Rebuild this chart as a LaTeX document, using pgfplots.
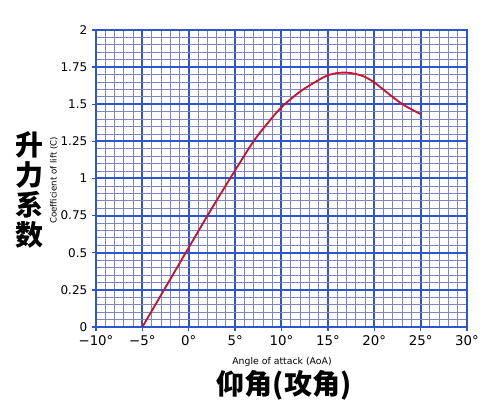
\documentclass[border=0pt]{standalone}
\usepackage{fontspec}
\setmainfont{DejaVu Sans}
\newfontfamily\cjk{Noto Sans CJK SC}[BoldFont={* Black}]
\usepackage{pgfplots}
\pgfplotsset{compat=1.18}

\definecolor{major}{RGB}{45,85,205}
\definecolor{minor}{RGB}{125,135,195}
\definecolor{curve}{RGB}{200,20,45}

\begin{document}
\begin{tikzpicture}
% 1 px of the reference = 0.75pt; axis box starts at (96,327) px
\useasboundingbox (-72pt,-65.25pt) rectangle (303pt,245.25pt);
\begin{axis}[
    at={(0,0)}, anchor=south west,
    scale only axis,
    width=278.25pt, height=222.75pt,
    xmin=-10, xmax=30,
    ymin=0, ymax=2,
    xtick={-10,-5,...,30},
    xticklabels={−10°,−5°,0°,5°,10°,15°,20°,25°,30°},
    ytick={0,0.25,0.5,0.75,1,1.25,1.5,1.75,2},
    minor x tick num=4,
    minor y tick num=4,
    grid=both,
    major grid style={major, line width=1.5pt},
    minor grid style={minor, line width=0.6pt},
    axis line style={major, line width=1.5pt},
    tick align=outside,
    xtick pos=bottom, ytick pos=left,
    major tick length=3pt,
    minor tick length=0pt,
    tick style={major, line width=1pt},
    xticklabel style={font=\fontsize{10}{12}\selectfont},
    yticklabel style={font=\fontsize{9}{11}\selectfont},
    /pgf/number format/assume math mode=true,
    clip=false,
]
\addplot[curve, line width=1.4pt, smooth] coordinates {
    (-5,0) (0,0.535) (2.5,0.8) (5,1.055) (7,1.252) (8.5,1.372) (10,1.48)
    (12,1.585) (14,1.663) (15,1.695) (16,1.71) (17,1.713) (18,1.704)
    (19,1.684) (20,1.647) (21,1.598) (22,1.548) (23,1.502) (24,1.466) (25,1.434)
};
\end{axis}
\node[font=\fontsize{7}{8}\selectfont] at (139.5pt,-26.25pt) {Angle of attack (AoA)};
\node[font=\fontsize{6.5}{8}\selectfont, rotate=90] at (-31.5pt,110pt) {Coefficient of lift (C)};
\node[font=\cjk\bfseries\fontsize{21}{24}\selectfont] at (141pt,-44pt) {仰角(攻角)};
\node[font=\cjk\bfseries\fontsize{21}{22.5}\selectfont, align=center] at (-50pt,103pt) {升\\力\\系\\数};
\end{tikzpicture}
\end{document}
